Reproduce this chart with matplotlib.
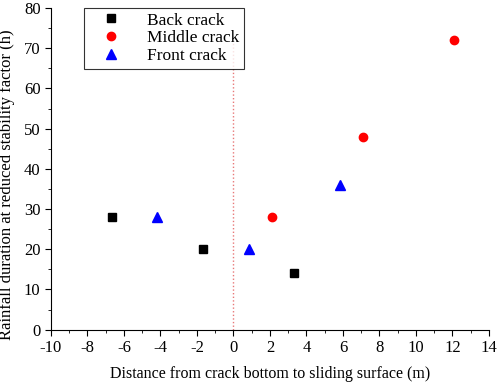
import matplotlib
matplotlib.use("Agg")
import matplotlib.pyplot as plt
from matplotlib.ticker import MultipleLocator

plt.rcParams["font.family"] = ["Liberation Serif", "DejaVu Serif"]
plt.rcParams["axes.unicode_minus"] = False

back_x = [-6.67, -1.67, 3.33]
back_y = [28, 20, 14]
middle_x = [2.1, 7.1, 12.1]
middle_y = [28, 48, 72]
front_x = [-4.2, 0.83, 5.83]
front_y = [28, 20, 36]

fig = plt.figure(figsize=(4.98, 3.84), dpi=100)
ax = fig.add_axes([0.1024, 0.1414, 0.8795, 0.8376])

ax.plot([0, 0], [0, 71.3], color="#e87878", linestyle=(0, (1, 1.6)), linewidth=1.0)
ax.plot(back_x, back_y, "s", color="black", markersize=5.5, linestyle="none", label="Back crack")
ax.plot(middle_x, middle_y, "o", color="red", markersize=6, linestyle="none", label="Middle crack")
ax.plot(front_x, front_y, "^", color="blue", markersize=6.5, linestyle="none", label="Front crack")

ax.set_xlim(-10, 14)
ax.set_ylim(0, 80)
ax.xaxis.set_major_locator(MultipleLocator(2))
ax.xaxis.set_minor_locator(MultipleLocator(1))
ax.yaxis.set_major_locator(MultipleLocator(10))
ax.yaxis.set_minor_locator(MultipleLocator(5))
ax.spines["top"].set_visible(False)
ax.spines["right"].set_visible(False)
ax.tick_params(which="major", direction="out", length=4, labelsize=12)
ax.tick_params(which="minor", direction="out", length=2.5)

ax.set_xlabel("Distance from crack bottom to sliding surface (m)", fontsize=11.5, labelpad=7)
ax.set_ylabel("Rainfall duration at reduced stability factor (h)", fontsize=12, labelpad=5)
ax.yaxis.set_label_coords(-0.083, 0.45)

leg = ax.legend(loc="upper left", bbox_to_anchor=(0.075, 1.0), borderaxespad=0,
                fontsize=12.5, frameon=True, fancybox=False, handletextpad=0.8,
                borderpad=0.25, labelspacing=0.1, handlelength=2.6)
leg.get_frame().set_edgecolor("black")
leg.get_frame().set_linewidth(0.8)

fig.savefig("out.png", dpi=100)
